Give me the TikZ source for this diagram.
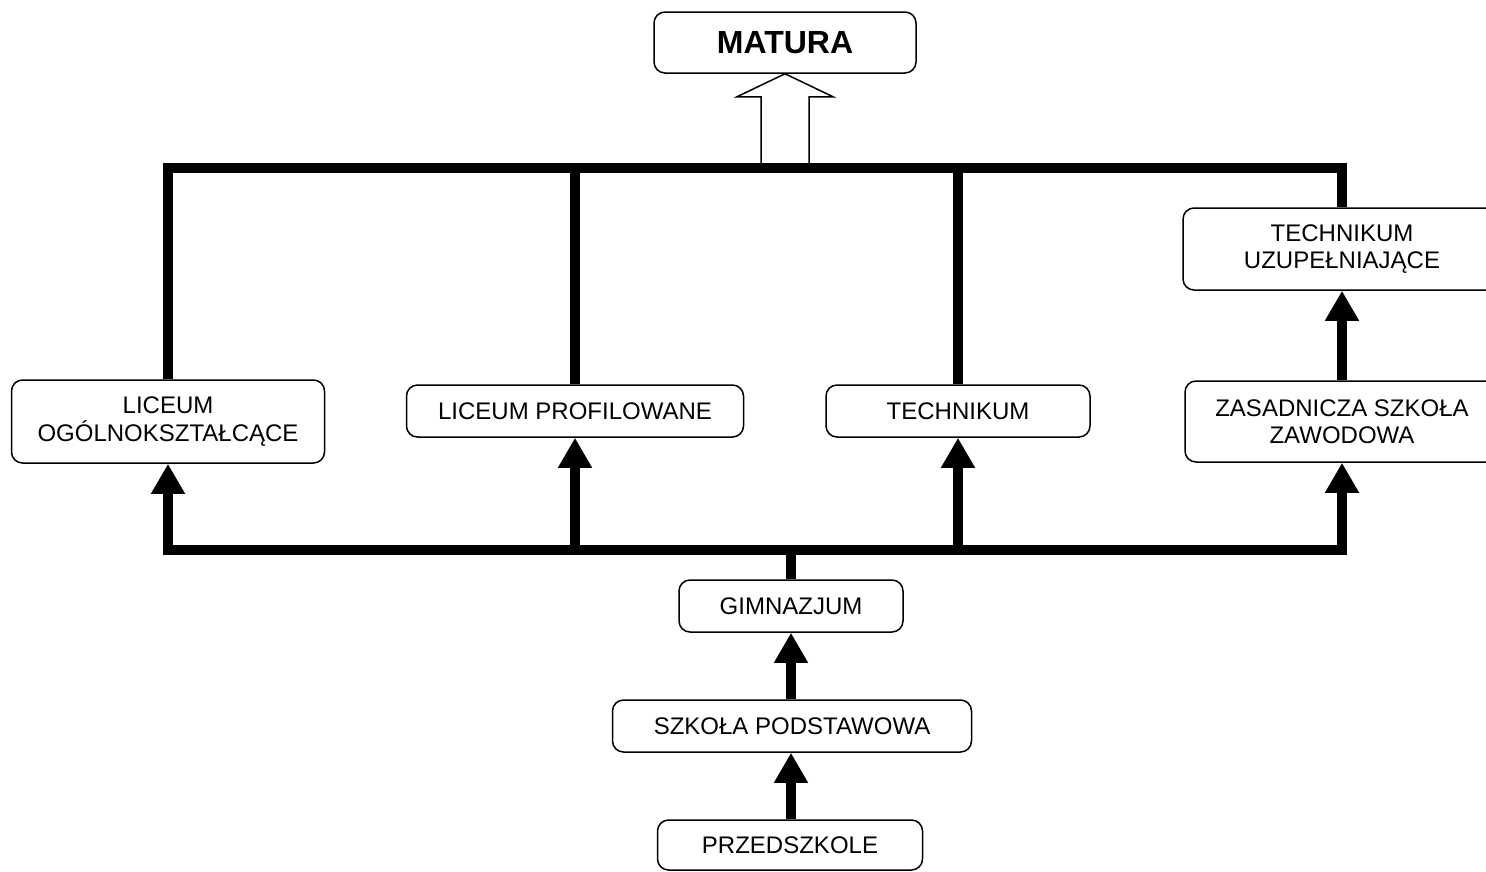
\documentclass[tikz,border=0pt]{standalone}
\usepackage{fontspec}
\setmainfont{Liberation Sans}
\usetikzlibrary{arrows.meta}
\begin{document}
\begin{tikzpicture}[x=1pt,y=-1pt,
  box/.style={draw, line width=1.5pt, rounded corners=11pt, align=center,
    inner sep=0pt, font=\fontsize{24}{27.5}\selectfont},
  bar/.style={line width=10pt, line join=miter},
  arr/.style={line width=10pt, -{Triangle[width=32pt,length=30pt]}},
  hollow/.style={draw, fill=white, line width=1.5pt, line join=miter}]
\useasboundingbox (0,0) rectangle (1486,871);
% nodes
\node[box, minimum width=262pt, minimum height=61pt, font=\fontsize{32}{36}\selectfont\bfseries] (matura) at (785,42.5) {MATURA};
\node[box, minimum width=313pt, minimum height=83pt] (lo) at (168,421.5) {LICEUM\\OGÓLNOKSZTAŁCĄCE};
\node[box, minimum width=337pt, minimum height=52pt] (lp) at (575,411) {LICEUM PROFILOWANE};
\node[box, minimum width=264pt, minimum height=52pt] (tech) at (958,411) {TECHNIKUM};
\node[box, minimum width=314pt, minimum height=81pt] (zsz) at (1342,421.5) {ZASADNICZA SZKOŁA\\ZAWODOWA};
\node[box, minimum width=318pt, minimum height=82pt] (tu) at (1342,249) {TECHNIKUM\\UZUPEŁNIAJĄCE};
\node[box, minimum width=224pt, minimum height=52pt] (gim) at (791,606) {GIMNAZJUM};
\node[box, minimum width=359pt, minimum height=52pt] (sp) at (792,726) {SZKOŁA PODSTAWOWA};
\node[box, minimum width=265pt, minimum height=50pt] (prz) at (790,845) {PRZEDSZKOLE};
\coordinate (topbar) at (0,168);
\coordinate (botbar) at (0,550);
% hollow arrow to MATURA
\draw[hollow] (matura.south) -- ++(48,23) -- ++(-24,0) -- ++(0,70) -- ++(-48,0)
  -- ++(0,-70) -- ++(-24,0) -- cycle;
% top collector
\draw[bar] (lo.north) |- (tu.north |- topbar) -- (tu.north);
\draw[bar] (lp.north) -- (lp.north |- topbar);
\draw[bar] (tech.north) -- (tech.north |- topbar);
% bottom distributor
\draw[bar, line cap=rect] (lo.south |- botbar) -- (zsz.south |- botbar);
\draw[bar] (gim.north) -- (gim.north |- botbar);
\draw[arr] (lo.south |- botbar) -- (lo.south);
\draw[arr] (lp.south |- botbar) -- (lp.south);
\draw[arr] (tech.south |- botbar) -- (tech.south);
\draw[arr] (zsz.south |- botbar) -- (zsz.south);
\draw[arr] (zsz.north) -- (tu.south);
\draw[arr] (gim.south |- sp.north) -- (gim.south);
\draw[arr] (gim.south |- prz.north) -- (gim.south |- sp.south);
\end{tikzpicture}
\end{document}
